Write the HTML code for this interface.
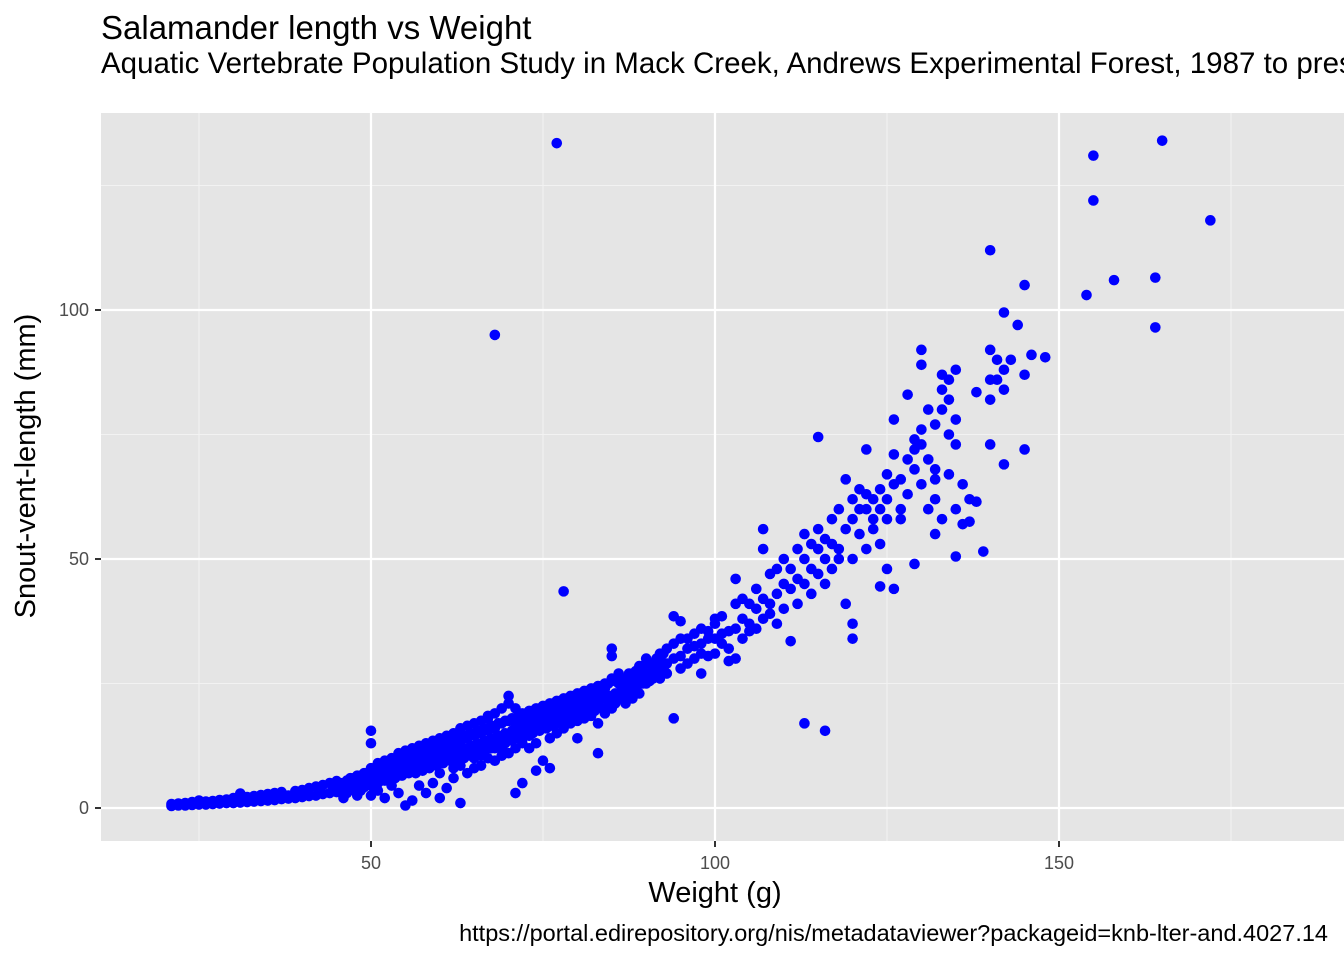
<!DOCTYPE html>
<html><head><meta charset="utf-8"><style>
body{margin:0;background:#fff;width:1344px;height:960px;overflow:hidden;font-family:"Liberation Sans",Arial,sans-serif}
svg text{font-family:"Liberation Sans",Arial,sans-serif}
</style></head><body>
<svg id="chart" width="1344" height="960">
<text x="101" y="39" font-size="33" fill="#000">Salamander length vs Weight</text>
<text x="101" y="73" font-size="29.5" fill="#000">Aquatic Vertebrate Population Study in Mack Creek, Andrews Experimental Forest, 1987 to present</text>
<rect x="101" y="113" width="1243" height="728" fill="#e5e5e5"/>
<g id="grid"></g>
<g id="points"></g>
<g id="axes"></g>
<text x="715" y="902" font-size="29" text-anchor="middle" fill="#000">Weight (g)</text>
<text transform="translate(35,466) rotate(-90)" font-size="29" text-anchor="middle" fill="#000">Snout-vent-length (mm)</text>
<text x="1328" y="941" font-size="23.5" text-anchor="end" fill="#000">https://portal.edirepository.org/nis/metadataviewer?packageid=knb-lter-and.4027.14</text>
</svg>
<script>
const xTicks=[50,100,150];
const yTicks=[0,50,100];
const xMinor=[25,75,125,175];
const yMinor=[25,75,125];
const pts=[
[21,[0.4,0.8]],[22,[0.5,0.9]],[23,[0.5,1.0]],[24,[0.6,1.2]],[25,[0.7,1.5]],[26,[0.7,1.3]],[27,[0.8,1.4]],[28,[0.9,1.6]],[29,[1.0,1.7]],[30,[1.0,2.0]],
[31,[1.1,2.9]],[32,[1.2,2.2]],[33,[1.3,2.4]],[34,[1.4,2.6]],[35,[1.5,2.8]],[36,[1.6,3.0]],[37,[1.8,3.2]],[38,[1.9,2.5]],[39,[2.0,3.4]],[40,[2.2,3.6]],
[41,[2.4,4.0]],[42,[2.5,4.3]],[43,[2.8,4.6]],[44,[3.0,5.0]],[45,[3.2,5.4]],[46,[3.4,5.0,2.0]],[47,[3.6,6.0,4.5]],[48,[4.0,6.5,2.5]],[49,[4.2,7.0,5.5]],
[50,[4.5,8,15.5,13,2.5]],[51,[5,9,3.5,6.5]],[52,[5.5,9.5,2.0,7.5]],[53,[6,10,4.5,8]],[54,[6.5,11,3,8.5]],[55,[7,11.5,0.5,9]],[56,[7.5,12,1.5,9.5]],
[57,[8,12.5,4.5,10]],[58,[8.5,13,3,10.5]],[59,[9,13.5,5,11]],[60,[9.5,14,2,11.5,7]],[61,[10,14.5,4,12]],[62,[10.5,15,6,12.5,8]],[63,[11,16,1,13,8.5]],
[64,[11.5,16.5,7,14]],[65,[12,17,8,14.5,10]],[66,[12.5,17.5,8.5,15,10.5]],[67,[13,18,18.5,15.5,10]],[68,[13.5,19,9.5,16,12,95]],[69,[14,20,10.5,17,12]],
[70,[14.5,22.5,21,11,17.5]],[71,[15,20,3,17,12]],[72,[15.5,19,5,18,13]],[73,[16,19.5,12,17.5,14.5]],[74,[16.5,20,13,18,7.5]],[75,[17,20.5,9.5,19]],
[76,[17.5,21,8,19.5,14]],[77,[18,21.5,15,20,133.5]],[78,[18.5,22,43.5,16,20]],[79,[19,22.5,17,21]],[80,[19.5,23,17.5,21.5,14]],[81,[20,23.5,18,22]],
[82,[20.5,24,18.5,22.5]],[83,[21,24.5,11,17,23]],[84,[22,25,19,24]],[85,[22.5,30.5,32,20,26]],[86,[23,27,25]],[87,[24,26,21]],[88,[25,22,27]],
[89,[26,23,28.5]],[90,[27,25,30]],[91,[28,26,29]],[92,[28.5,31,26]],[93,[29,32,27]],[94,[30,38.5,18,33]],[95,[30.5,34,28,37.5]],[96,[32,29,34]],
[97,[32.5,30,35]],[98,[33,27,31,36]],[99,[34,30.5,35.5]],[100,[34,37,31,38]],[101,[35,33,38.5]],[102,[35.5,32,29.5]],[103,[36,41,30,46]],
[104,[38,34,42]],[105,[37,41,35.5]],[106,[40,36,44]],[107,[42,38,56,52]],[108,[41,47,39]],[109,[43,48,37]],[110,[45,40,50]],[111,[44,48,33.5]],
[112,[46,52,41]],[113,[50,17,55,45]],[114,[48,53,43]],[115,[47,56,74.5,52]],[116,[50,54,15.5,45]],[117,[53,48,58]],[118,[52,60,50]],[119,[56,66,41]],
[120,[58,50,34,37,62]],[121,[55,60,64]],[122,[60,72,52,63]],[123,[58,56,62]],[124,[60,64,44.5,53]],[125,[62,48,67,58]],[126,[65,71,44,78]],
[127,[60,66,58]],[128,[70,63,83]],[129,[68,74,49,72]],[130,[73,65,92,89,76]],[131,[70,80,60]],[132,[66,77,55,68,62]],[133,[80,84,58,87]],
[134,[86,67,75,82]],[135,[78,88,60,50.5,73]],[136,[65,57]],[137,[57.5,62]],[138,[83.5,61.5]],[139,[51.5]],[140,[86,92,82,73,112]],[141,[86,90]],
[142,[99.5,84,69,88]],[143,[90]],[144,[97]],[145,[105,87,72]],[146,[91]],[148,[90.5]],[154,[103]],[155,[131,122]],[158,[106]],[164,[96.5,106.5]],
[165,[134]],[172,[118]]
];
const ptsBand=[
[44.5,[3.5,4.5]],[45.5,[4,5]],[46.5,[4.5,5.5,3]],[47.5,[5,6,4]],[48.5,[5.5,6.5,3.5]],[49.5,[6,7,5]],[50.5,[6.5,7.5,5]],[51.5,[7,8,5.5]],
[52.5,[7,8.5,6]],[53.5,[7.5,9,6]],[54.5,[8,10,6.5]],[55.5,[8.5,10.5,7]],[56.5,[9,11,7]],[57.5,[9.5,11.5,7.5]],[58.5,[10,12,8]],[59.5,[10,12.5,8.5]],
[60.5,[10.5,13,9]],[61.5,[11,13.5,9.5]],[62.5,[11.5,14,9.5]],[63.5,[12,14.5,10]],[64.5,[12.5,15,10.5]],[65.5,[13,15.5,11]],[66.5,[13.5,16,11.5]],
[67.5,[14,16.5,12]],[68.5,[14.5,17,12.5]],[69.5,[15,17.5,13]],[70.5,[15.5,18,13.5]],[71.5,[16,18.5,14]],[72.5,[16.5,19,14.5]],[73.5,[17,19.5,15]],
[74.5,[17.5,20,15.5]],[75.5,[18,20.5,16]],[76.5,[18.5,21,16.5]],[77.5,[19,21.5,17]],[78.5,[19.5,22,17.5]],[79.5,[20,22.5,18]],[80.5,[20.5,23,18.5]],
[81.5,[21,23.5,19]],[82.5,[21.5,24,19.5]],[83.5,[22,24.5,20]],[84.5,[22.5,25,20.5]],[85.5,[23,25.5,21]],[86.5,[24,26,22]],[87.5,[25,27,23]],
[88.5,[25.5,27.5,24]],[89.5,[26.5,28.5,25]],[90.5,[27,29,25.5]],[91.5,[28,30,26.5]],[92.5,[29,31,27]]
];
const NS='http://www.w3.org/2000/svg';
const sx=v=>27+v*6.88;
const sy=v=>808-v*4.98;
const grid=document.getElementById('grid'),axes=document.getElementById('axes'),pg=document.getElementById('points');
function ln(p,x1,y1,x2,y2,c,w){const l=document.createElementNS(NS,'line');l.setAttribute('x1',x1);l.setAttribute('y1',y1);l.setAttribute('x2',x2);l.setAttribute('y2',y2);l.setAttribute('stroke',c);l.setAttribute('stroke-width',w);p.appendChild(l);return l;}
xMinor.forEach(v=>{const l=ln(grid,sx(v),113,sx(v),841,'#f2f2f2',1.1);

});
yMinor.forEach(v=>{const l=ln(grid,101,sy(v),1344,sy(v),'#f2f2f2',1.1);

});
xTicks.forEach(v=>{const l=ln(grid,sx(v),113,sx(v),841,'#fff',2.2);


ln(axes,sx(v),841,sx(v),847,'#333',2);
const t=document.createElementNS(NS,'text');t.setAttribute('x',sx(v));t.setAttribute('y',869);t.setAttribute('font-size','18');t.setAttribute('fill','#4d4d4d');t.setAttribute('text-anchor','middle');t.textContent=v;


axes.appendChild(t);});
yTicks.forEach(v=>{const l=ln(grid,101,sy(v),1344,sy(v),'#fff',2.2);


ln(axes,95,sy(v),101,sy(v),'#333',2);
const t=document.createElementNS(NS,'text');t.setAttribute('x',89);t.setAttribute('y',sy(v)+6);t.setAttribute('font-size','18');t.setAttribute('fill','#4d4d4d');t.setAttribute('text-anchor','end');t.textContent=v;


axes.appendChild(t);});
[pts,ptsBand].forEach(set=>set.forEach(([x,ys])=>ys.forEach(y=>{const c=document.createElementNS(NS,'circle');c.setAttribute('cx',sx(x));c.setAttribute('cy',sy(y));c.setAttribute('r',5.3);c.setAttribute('fill','#0000ff');


pg.appendChild(c);})));
</script>
</body></html>
